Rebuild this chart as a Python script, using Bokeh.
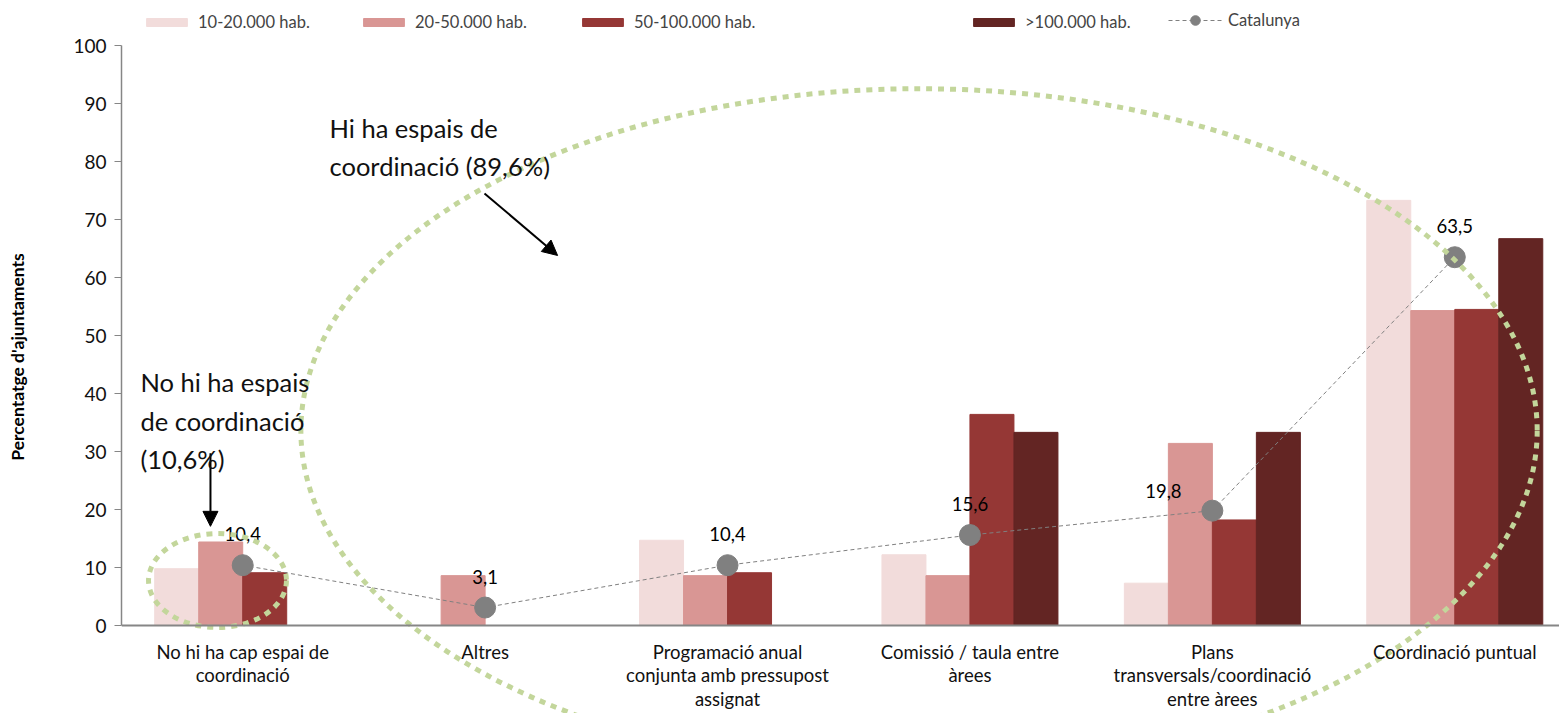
import numpy as np
from bokeh.plotting import figure
from bokeh.models import (ColumnDataSource, Range1d, FixedTicker, Legend, LegendItem,
                          Label, Arrow, NormalHead)
from bokeh.core.properties import value
from bokeh.embed import file_html
from bokeh.resources import INLINE

# ---------------- data ----------------
categories = [
    "No hi ha cap espai de\ncoordinació",
    "Altres",
    "Programació anual\nconjunta amb pressupost\nassignat",
    "Comissió / taula entre\nàrees",
    "Plans\ntransversals/coordinació\nentre àrees",
    "Coordinació puntual",
]
series_names = ["10-20.000 hab.", "20-50.000 hab.", "50-100.000 hab.", ">100.000 hab."]
hab_10_20 = [9.8, 0.0, 14.7, 12.2, 7.3, 73.3]
hab_20_50 = [14.4, 8.6, 8.6, 8.6, 31.4, 54.3]
hab_50_100 = [9.1, 0.0, 9.1, 36.4, 18.2, 54.5]
hab_100 = [0.0, 0.0, 0.0, 33.3, 33.3, 66.7]
catalunya = [10.4, 3.1, 10.4, 15.6, 19.8, 63.5]
y_ticks = [0, 10, 20, 30, 40, 50, 60, 70, 80, 90, 100]

# ---------------- styles ----------------
FONT = "Lato"
colors = ["#f2dcdb", "#d99694", "#953735", "#632523"]
green = "#c3d69b"
grey = "#808080"
bar_w = 0.1815
label_dx = [0, 0, 0, 0, -49, 0]
label_dy = [-24, -24, -24, -24, -13, -24]

n = len(categories)
centers = np.arange(n) + 0.5

p = figure(width=1559, height=713, x_range=Range1d(0, 5.932), y_range=Range1d(-15.17, 107.76),
           output_backend="svg", toolbar_location=None,
           min_border_left=121, min_border_right=0, min_border_top=0, min_border_bottom=0)
p.outline_line_color = None
p.xgrid.grid_line_color = None
p.ygrid.grid_line_color = None
p.background_fill_color = "white"
p.border_fill_color = "white"

# y axis
ya = p.yaxis[0]
ya.ticker = FixedTicker(ticks=y_ticks)
ya.bounds = (0, 100)
ya.axis_line_color = "#868686"
ya.axis_line_width = 1.5
ya.major_tick_line_color = "#868686"
ya.major_tick_out = 7
ya.major_tick_in = 0
ya.minor_tick_line_color = None
ya.major_label_text_font = FONT
ya.major_label_text_font_size = "19px"
ya.major_label_text_color = "#111111"
ya.major_label_standoff = 8
ya.axis_label = "Percentatge d'ajuntaments"
ya.axis_label_text_font = FONT
ya.axis_label_text_font_size = "17.5px"
ya.axis_label_text_font_style = "bold"
ya.axis_label_text_color = "#000000"
ya.axis_label_standoff = 42

# x axis at y=0
xa = p.xaxis[0]
xa.fixed_location = 0
xa.ticker = FixedTicker(ticks=list(centers))
xa.major_label_overrides = {float(c): lab for c, lab in zip(centers, categories)}
xa.axis_line_color = "#868686"
xa.axis_line_width = 2
xa.major_tick_line_color = None
xa.minor_tick_line_color = None
xa.major_label_text_font = FONT
xa.major_label_text_font_size = "18.5px"
xa.major_label_text_color = "#111111"
xa.major_label_text_line_height = 1.08
xa.major_label_standoff = 9

# bars
series = [hab_10_20, hab_20_50, hab_50_100, hab_100]
bar_renderers = []
for k, (vals, col) in enumerate(zip(series, colors)):
    xs = centers + (k - 1.5) * bar_w
    r = p.vbar(x=xs, top=vals, bottom=0, width=bar_w, fill_color=col, line_color=col)
    bar_renderers.append(r)

# Catalunya line
line_r = p.line(centers, catalunya, line_color=grey, line_width=1, line_dash="4 3")
dot_r = p.scatter(centers, catalunya, size=21, fill_color=grey, line_color=grey)

lab_src = ColumnDataSource(dict(
    x=centers, y=catalunya,
    text=[f"{v:.1f}".replace(".", ",") for v in catalunya],
    dx=label_dx, dy=label_dy,
))
p.text(x="x", y="y", text="text", x_offset="dx", y_offset="dy", source=lab_src,
       text_align="center", text_baseline="bottom", text_font=value(FONT),
       text_font_size="18.5px", text_color="#000000")

# annotation ellipses
p.ellipse(x=[3.29], y=[33.6], width=[5.10], height=[117.9], fill_alpha=0,
          line_color=green, line_width=5, line_dash="6 6")
p.ellipse(x=[0.396], y=[7.76], width=[0.569], height=[16.2], fill_alpha=0,
          line_color=green, line_width=5, line_dash="6 6")

# arrows
p.add_layout(Arrow(x_start=1.4975, y_start=74.5, x_end=1.799, y_end=63.8,
                   line_color="black", line_width=2,
                   end=NormalHead(size=15, fill_color="black", line_color="black")))
p.add_layout(Arrow(x_start=0.367, y_start=29.7, x_end=0.367, y_end=17.1,
                   line_color="black", line_width=2,
                   end=NormalHead(size=15, fill_color="black", line_color="black")))

# annotation texts
p.add_layout(Label(x=0.858, y=88.4, text="Hi ha espais de\ncoordinació (89,6%)",
                   text_font=FONT, text_font_size="25.5px", text_baseline="top",
                   text_align="left", text_line_height=1.28, text_color="#111111"))
p.add_layout(Label(x=0.078, y=44.5, text="No hi ha espais\nde coordinació\n(10,6%)",
                   text_font=FONT, text_font_size="25.5px", text_baseline="top",
                   text_align="left", text_line_height=1.28, text_color="#111111"))

# legends
legend_x = [20, 237, 456, 847]
for name, r, lx in zip(series_names, bar_renderers, legend_x):
    lg = Legend(items=[LegendItem(label=name, renderers=[r])], location=(lx, 681),
                orientation="horizontal", padding=0, margin=0, spacing=0,
                border_line_alpha=0, background_fill_alpha=0,
                glyph_width=51, glyph_height=10, label_height=20, label_standoff=6,
                label_text_font=FONT, label_text_font_size="16.5px")
    p.add_layout(lg)
lg = Legend(items=[LegendItem(label="Catalunya", renderers=[line_r, dot_r])], location=(1047, 681),
            orientation="horizontal", padding=0, margin=0, spacing=0,
            border_line_alpha=0, background_fill_alpha=0,
            glyph_width=54, glyph_height=24, label_height=20, label_standoff=6,
            label_text_font=FONT, label_text_font_size="16.5px")
p.add_layout(lg)

open("out.html", "w").write(file_html(p, INLINE))
